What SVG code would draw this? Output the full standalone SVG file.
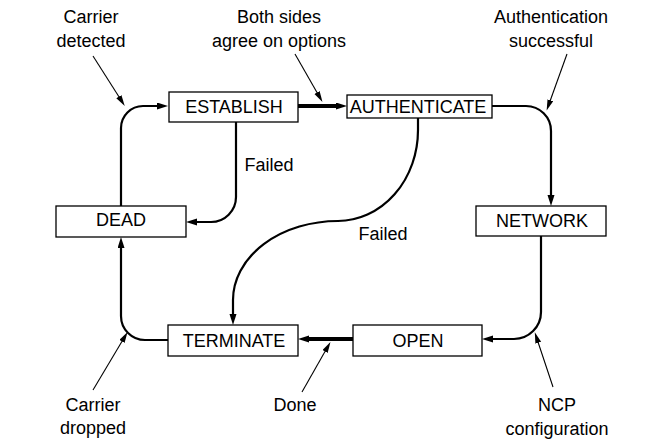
<svg xmlns="http://www.w3.org/2000/svg" width="663" height="445" viewBox="0 0 663 445">
<style>
  .box{fill:#fff;stroke:#000;stroke-width:1.3}
  .lbl{font-family:"Liberation Sans",Arial,sans-serif;font-size:18px;fill:#000;text-anchor:middle}
  .note{font-family:"Liberation Sans",Arial,sans-serif;font-size:18px;fill:#000;text-anchor:middle}
  .c{fill:none;stroke:#000;stroke-width:2.2}
  .thick{fill:none;stroke:#000;stroke-width:4}
  .ptr{fill:none;stroke:#000;stroke-width:1.1}
</style>
<defs>
  <marker id="ah" markerUnits="userSpaceOnUse" markerWidth="12" markerHeight="8" refX="4" refY="3.5" orient="auto">
    <path d="M0,0 L11,3.5 L0,7 z" fill="#000"/>
  </marker>
  <marker id="ahp" markerUnits="userSpaceOnUse" markerWidth="12" markerHeight="8" refX="4" refY="3" orient="auto">
    <path d="M0,0 L11,3 L0,6 z" fill="#000"/>
  </marker>
</defs>
<rect width="663" height="445" fill="#fff"/>
<g id="connectors">
  <path class="c" d="M121,206 V128 A22,22 0 0 1 143,106 H161" marker-end="url(#ah)"/>
  <path class="thick" d="M298,106 H340" marker-end="url(#ah)"/>
  <path class="c" d="M492,106 H526 A25,25 0 0 1 551,131 V199" marker-end="url(#ah)"/>
  <path class="c" d="M236,122 V197 A25,25 0 0 1 211,222 H193" marker-end="url(#ah)"/>
  <path class="c" d="M418,118 V130 A80,91 0 0 1 338,221 A105,79 0 0 0 233,300 V318" marker-end="url(#ah)"/>
  <path class="c" d="M541,236 V312 A27,27 0 0 1 514,339 H489" marker-end="url(#ah)"/>
  <path class="thick" d="M353,339 H305" marker-end="url(#ah)"/>
  <path class="c" d="M168,340 H145 A24,24 0 0 1 121,316 V244" marker-end="url(#ah)"/>
  <path class="ptr" d="M93,56 L121,100" marker-end="url(#ahp)"/>
  <path class="ptr" d="M295,54 L319,96" marker-end="url(#ahp)"/>
  <path class="ptr" d="M567,54 L549,104" marker-end="url(#ahp)"/>
  <path class="ptr" d="M93,390 L124,338" marker-end="url(#ahp)"/>
  <path class="ptr" d="M302,392 L327,348" marker-end="url(#ahp)"/>
  <path class="ptr" d="M553,387 L537,339" marker-end="url(#ahp)"/>
</g>
<g id="establish"><rect class="box" x="169" y="92" width="129" height="30"/><text class="lbl" x="234" y="113">ESTABLISH</text></g>
<g id="authenticate"><rect class="box" x="347" y="95" width="145" height="23"/><text class="lbl" x="418" y="113">AUTHENTICATE</text></g>
<g id="network"><rect class="box" x="476" y="206" width="130" height="30"/><text class="lbl" x="542" y="227">NETWORK</text></g>
<g id="dead"><rect class="box" x="56" y="206" width="130" height="31"/><text class="lbl" x="121" y="226">DEAD</text></g>
<g id="terminate"><rect class="box" x="168" y="325" width="130" height="31"/><text class="lbl" x="234" y="347">TERMINATE</text></g>
<g id="open"><rect class="box" x="353" y="325" width="129" height="31"/><text class="lbl" x="418" y="347">OPEN</text></g>
<g id="labels">
  <text class="note" x="91" y="23">Carrier</text>
  <text class="note" x="91" y="47">detected</text>
  <text class="note" x="279" y="23">Both sides</text>
  <text class="note" x="279" y="47">agree on options</text>
  <text class="note" x="551" y="23">Authentication</text>
  <text class="note" x="551" y="47">successful</text>
  <text class="note" x="269" y="171">Failed</text>
  <text class="note" x="383" y="240">Failed</text>
  <text class="note" x="93" y="411">Carrier</text>
  <text class="note" x="93" y="434">dropped</text>
  <text class="note" x="295" y="411">Done</text>
  <text class="note" x="557" y="411">NCP</text>
  <text class="note" x="557" y="435">configuration</text>
</g>
</svg>
